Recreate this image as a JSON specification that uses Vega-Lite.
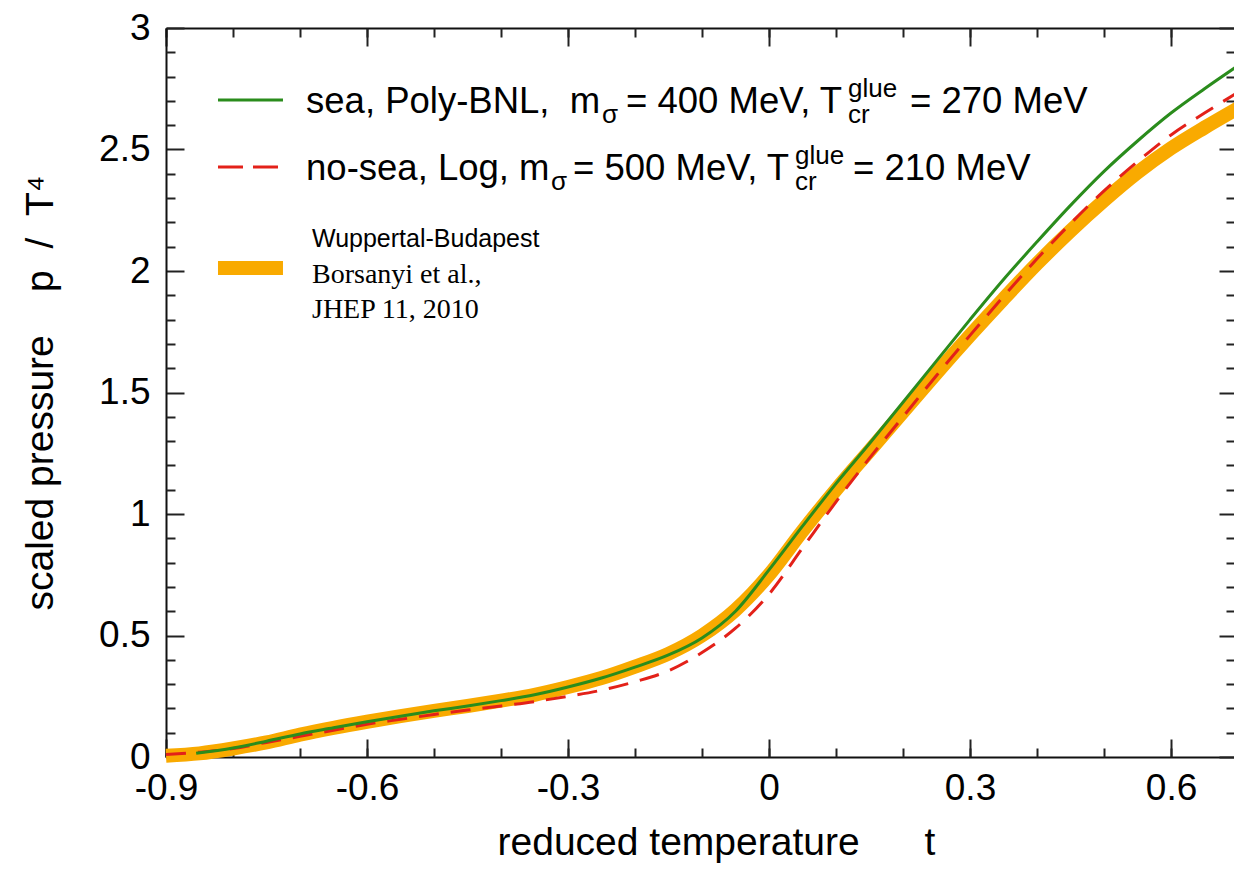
{
  "$schema": "https://vega.github.io/schema/vega-lite/v6.json",
  "width": 1068,
  "height": 729,
  "autosize": {"type": "none"},
  "padding": {"left": 166, "top": 28, "right": 0, "bottom": 112},
  "background": "white",
  "config": {
    "view": {"stroke": null},
    "font": "Liberation Sans",
    "axis": {
      "grid": false,
      "domainColor": "#111111",
      "domainWidth": 2,
      "tickColor": "#222222",
      "tickWidth": 2,
      "labelFont": "Liberation Sans",
      "labelFontSize": 37,
      "labelColor": "#000000",
      "titleFont": "Liberation Sans",
      "titleFontSize": 39,
      "titleFontWeight": "normal",
      "titleColor": "#000000"
    }
  },
  "datasets": {
    "wb": [
      {"t": -0.9, "p": 0.005}, {"t": -0.85, "p": 0.015}, {"t": -0.8, "p": 0.035},
      {"t": -0.75, "p": 0.06}, {"t": -0.7, "p": 0.092}, {"t": -0.65, "p": 0.12},
      {"t": -0.6, "p": 0.145}, {"t": -0.55, "p": 0.168}, {"t": -0.5, "p": 0.19},
      {"t": -0.45, "p": 0.21}, {"t": -0.4, "p": 0.232}, {"t": -0.35, "p": 0.256},
      {"t": -0.3, "p": 0.288}, {"t": -0.25, "p": 0.325}, {"t": -0.2, "p": 0.372},
      {"t": -0.15, "p": 0.425}, {"t": -0.1, "p": 0.5}, {"t": -0.05, "p": 0.605},
      {"t": 0.0, "p": 0.75}, {"t": 0.05, "p": 0.93}, {"t": 0.1, "p": 1.1},
      {"t": 0.15, "p": 1.26}, {"t": 0.2, "p": 1.42}, {"t": 0.25, "p": 1.58},
      {"t": 0.3, "p": 1.735}, {"t": 0.35, "p": 1.885}, {"t": 0.4, "p": 2.03},
      {"t": 0.45, "p": 2.165}, {"t": 0.5, "p": 2.29}, {"t": 0.55, "p": 2.405},
      {"t": 0.6, "p": 2.505}, {"t": 0.65, "p": 2.59}, {"t": 0.7, "p": 2.67}
    ],
    "nosea": [
      {"t": -0.9, "p": 0.01}, {"t": -0.85, "p": 0.02}, {"t": -0.8, "p": 0.035},
      {"t": -0.75, "p": 0.06}, {"t": -0.7, "p": 0.085}, {"t": -0.65, "p": 0.11},
      {"t": -0.6, "p": 0.135}, {"t": -0.55, "p": 0.155}, {"t": -0.5, "p": 0.175},
      {"t": -0.45, "p": 0.193}, {"t": -0.4, "p": 0.21}, {"t": -0.35, "p": 0.228},
      {"t": -0.3, "p": 0.25}, {"t": -0.25, "p": 0.275}, {"t": -0.2, "p": 0.31},
      {"t": -0.15, "p": 0.355}, {"t": -0.1, "p": 0.43}, {"t": -0.05, "p": 0.53},
      {"t": 0.0, "p": 0.67}, {"t": 0.05, "p": 0.86}, {"t": 0.1, "p": 1.05},
      {"t": 0.15, "p": 1.23}, {"t": 0.2, "p": 1.4}, {"t": 0.25, "p": 1.57},
      {"t": 0.3, "p": 1.735}, {"t": 0.35, "p": 1.895}, {"t": 0.4, "p": 2.05},
      {"t": 0.45, "p": 2.195}, {"t": 0.5, "p": 2.33}, {"t": 0.55, "p": 2.45},
      {"t": 0.6, "p": 2.56}, {"t": 0.65, "p": 2.65}, {"t": 0.7, "p": 2.735}
    ],
    "sea": [
      {"t": -0.855, "p": 0.015}, {"t": -0.8, "p": 0.037},
      {"t": -0.75, "p": 0.065}, {"t": -0.7, "p": 0.095}, {"t": -0.65, "p": 0.12},
      {"t": -0.6, "p": 0.145}, {"t": -0.55, "p": 0.168}, {"t": -0.5, "p": 0.19},
      {"t": -0.45, "p": 0.21}, {"t": -0.4, "p": 0.232}, {"t": -0.35, "p": 0.256},
      {"t": -0.3, "p": 0.288}, {"t": -0.25, "p": 0.325}, {"t": -0.2, "p": 0.37},
      {"t": -0.15, "p": 0.42}, {"t": -0.1, "p": 0.49}, {"t": -0.05, "p": 0.6},
      {"t": 0.0, "p": 0.77}, {"t": 0.05, "p": 0.95}, {"t": 0.1, "p": 1.125},
      {"t": 0.15, "p": 1.29}, {"t": 0.2, "p": 1.46}, {"t": 0.25, "p": 1.63},
      {"t": 0.3, "p": 1.8}, {"t": 0.35, "p": 1.965}, {"t": 0.4, "p": 2.12},
      {"t": 0.45, "p": 2.27}, {"t": 0.5, "p": 2.41}, {"t": 0.55, "p": 2.535},
      {"t": 0.6, "p": 2.65}, {"t": 0.65, "p": 2.75}, {"t": 0.7, "p": 2.845}
    ],
    "key": [
      {"series": "sea", "t1": -0.8224, "t2": -0.7254, "p": 2.7037},
      {"series": "nosea", "t1": -0.8224, "t2": -0.7254, "p": 2.428},
      {"series": "wb", "t1": -0.8224, "t2": -0.7254, "p": 2.012}
    ],
    "labels": [
      {"k": "main", "t": -0.691, "p": 2.6502, "s": "sea, Poly-BNL,\u00a0\u00a0m"},
      {"k": "sub", "t": -0.2493, "p": 2.6091, "s": "σ"},
      {"k": "main", "t": -0.2134, "p": 2.6502, "s": "= 400 MeV, T"},
      {"k": "sub", "t": 0.1179, "p": 2.6091, "s": "cr"},
      {"k": "sup", "t": 0.1179, "p": 2.7161, "s": "glue"},
      {"k": "main", "t": 0.2104, "p": 2.6502, "s": "= 270 MeV"},
      {"k": "main", "t": -0.691, "p": 2.3745, "s": "no-sea, Log, m"},
      {"k": "sub", "t": -0.3254, "p": 2.3334, "s": "σ"},
      {"k": "main", "t": -0.2925, "p": 2.3745, "s": "= 500 MeV, T"},
      {"k": "sub", "t": 0.0388, "p": 2.3334, "s": "cr"},
      {"k": "sup", "t": 0.0388, "p": 2.4403, "s": "glue"},
      {"k": "main", "t": 0.1254, "p": 2.3745, "s": "= 210 MeV"},
      {"k": "wb", "t": -0.6821, "p": 2.0988, "s": "Wuppertal-Budapest"},
      {"k": "ref", "t": -0.6821, "p": 1.9506, "s": "Borsanyi et al.,"},
      {"k": "ref", "t": -0.6821, "p": 1.8066, "s": "JHEP 11, 2010"}
    ]
  },
  "resolve": {"axis": {"x": "independent", "y": "independent"}},
  "layer": [
    {
      "data": {"name": "wb"},
      "mark": {"type": "line", "stroke": "#f9aa00", "strokeWidth": 14, "clip": false, "interpolate": "monotone"},
      "encoding": {
        "x": {"field": "t", "type": "quantitative",
              "scale": {"domain": [-0.9, 0.694], "nice": false, "zero": false},
              "axis": {"orient": "bottom", "values": [-0.9, -0.6, -0.3, 0, 0.3, 0.6],
                       "tickSize": -18, "labelPadding": 31, "format": "~g",
                       "labelExpr": "replace(datum.label, '\u2212', '-')",
                       "labelFlush": false, "labelOverlap": false,
                       "title": "reduced temperature\u00a0\u00a0\u00a0\u00a0\u00a0\u00a0t",
                       "titlePadding": 17, "titleX": 550}},
        "y": {"field": "p", "type": "quantitative",
              "scale": {"domain": [0, 3], "nice": false, "zero": false},
              "axis": {"orient": "left", "values": [0, 0.5, 1, 1.5, 2, 2.5, 3],
                       "tickSize": -18, "labelPadding": 34, "format": "~g",
                       "labelFlush": false, "labelOverlap": false,
                       "title": "scaled pressure\u00a0\u00a0\u00a0\u00a0p\u00a0\u00a0/\u00a0\u00a0T⁴",
                       "titlePadding": 38}}
      }
    },
    {
      "data": {"name": "nosea"},
      "mark": {"type": "line", "stroke": "#e32119", "strokeWidth": 3, "strokeDash": [20, 12], "clip": false, "interpolate": "monotone"},
      "encoding": {
        "x": {"field": "t", "type": "quantitative",
              "scale": {"domain": [-0.9, 0.694], "nice": false, "zero": false},
              "axis": {"orient": "bottom", "values": [-0.9, -0.8, -0.7, -0.6, -0.5, -0.4, -0.3, -0.2, -0.1, 0, 0.1, 0.2, 0.3, 0.4, 0.5, 0.6],
                       "tickSize": -9, "labels": false, "domain": false, "title": null}},
        "y": {"field": "p", "type": "quantitative",
              "scale": {"domain": [0, 3], "nice": false, "zero": false},
              "axis": {"orient": "left", "values": [0.1, 0.2, 0.3, 0.4, 0.6, 0.7, 0.8, 0.9, 1.1, 1.2, 1.3, 1.4, 1.6, 1.7, 1.8, 1.9, 2.1, 2.2, 2.3, 2.4, 2.6, 2.7, 2.8, 2.9],
                       "tickSize": -9, "labels": false, "domain": false, "title": null}}
      }
    },
    {
      "data": {"name": "sea"},
      "mark": {"type": "line", "stroke": "#2a8c1c", "strokeWidth": 3, "clip": false, "interpolate": "monotone"},
      "encoding": {
        "x": {"field": "t", "type": "quantitative",
              "scale": {"domain": [-0.9, 0.694], "nice": false, "zero": false},
              "axis": {"orient": "top", "values": [-0.9, -0.6, -0.3, 0, 0.3, 0.6],
                       "tickSize": -18, "labels": false, "title": null}},
        "y": {"field": "p", "type": "quantitative",
              "scale": {"domain": [0, 3], "nice": false, "zero": false},
              "axis": {"orient": "right", "values": [0, 0.5, 1, 1.5, 2, 2.5, 3],
                       "tickSize": -15, "labels": false, "domain": false, "title": null}}
      }
    },
    {
      "data": {"name": "key"},
      "transform": [{"filter": "datum.series === 'wb'"}],
      "mark": {"type": "rule", "stroke": "#f9aa00", "strokeWidth": 14},
      "encoding": {
        "x": {"field": "t1", "type": "quantitative",
              "scale": {"domain": [-0.9, 0.694], "nice": false, "zero": false},
              "axis": {"orient": "top", "values": [-0.9, -0.8, -0.7, -0.6, -0.5, -0.4, -0.3, -0.2, -0.1, 0, 0.1, 0.2, 0.3, 0.4, 0.5, 0.6],
                       "tickSize": -9, "labels": false, "domain": false, "title": null}},
        "x2": {"field": "t2"},
        "y": {"field": "p", "type": "quantitative",
              "scale": {"domain": [0, 3], "nice": false, "zero": false},
              "axis": {"orient": "right", "values": [0.1, 0.2, 0.3, 0.4, 0.6, 0.7, 0.8, 0.9, 1.1, 1.2, 1.3, 1.4, 1.6, 1.7, 1.8, 1.9, 2.1, 2.2, 2.3, 2.4, 2.6, 2.7, 2.8, 2.9],
                       "tickSize": -8, "labels": false, "domain": false, "title": null}}
      }
    },
    {
      "data": {"name": "key"},
      "transform": [{"filter": "datum.series === 'nosea'"}],
      "mark": {"type": "rule", "stroke": "#e32119", "strokeWidth": 3, "strokeDash": [25, 10]},
      "encoding": {
        "x": {"field": "t1", "type": "quantitative", "axis": null},
        "x2": {"field": "t2"},
        "y": {"field": "p", "type": "quantitative", "axis": null}
      }
    },
    {
      "data": {"name": "key"},
      "transform": [{"filter": "datum.series === 'sea'"}],
      "mark": {"type": "rule", "stroke": "#2a8c1c", "strokeWidth": 3},
      "encoding": {
        "x": {"field": "t1", "type": "quantitative", "axis": null},
        "x2": {"field": "t2"},
        "y": {"field": "p", "type": "quantitative", "axis": null}
      }
    },
    {
      "data": {"name": "labels"},
      "transform": [{"filter": "datum.k === 'main'"}],
      "mark": {"type": "text", "align": "left", "baseline": "alphabetic", "font": "Liberation Sans", "fontSize": 36.5, "color": "#000000"},
      "encoding": {
        "x": {"field": "t", "type": "quantitative", "axis": null},
        "y": {"field": "p", "type": "quantitative", "axis": null},
        "text": {"field": "s"}
      }
    },
    {
      "data": {"name": "labels"},
      "transform": [{"filter": "datum.k === 'sub' || datum.k === 'sup'"}],
      "mark": {"type": "text", "align": "left", "baseline": "alphabetic", "font": "Liberation Sans", "fontSize": 26, "color": "#000000"},
      "encoding": {
        "x": {"field": "t", "type": "quantitative", "axis": null},
        "y": {"field": "p", "type": "quantitative", "axis": null},
        "text": {"field": "s"}
      }
    },
    {
      "data": {"name": "labels"},
      "transform": [{"filter": "datum.k === 'wb'"}],
      "mark": {"type": "text", "align": "left", "baseline": "alphabetic", "font": "Liberation Sans", "fontSize": 25, "color": "#000000"},
      "encoding": {
        "x": {"field": "t", "type": "quantitative", "axis": null},
        "y": {"field": "p", "type": "quantitative", "axis": null},
        "text": {"field": "s"}
      }
    },
    {
      "data": {"name": "labels"},
      "transform": [{"filter": "datum.k === 'ref'"}],
      "mark": {"type": "text", "align": "left", "baseline": "alphabetic", "font": "Liberation Serif", "fontSize": 28, "color": "#000000"},
      "encoding": {
        "x": {"field": "t", "type": "quantitative", "axis": null},
        "y": {"field": "p", "type": "quantitative", "axis": null},
        "text": {"field": "s"}
      }
    }
  ]
}
